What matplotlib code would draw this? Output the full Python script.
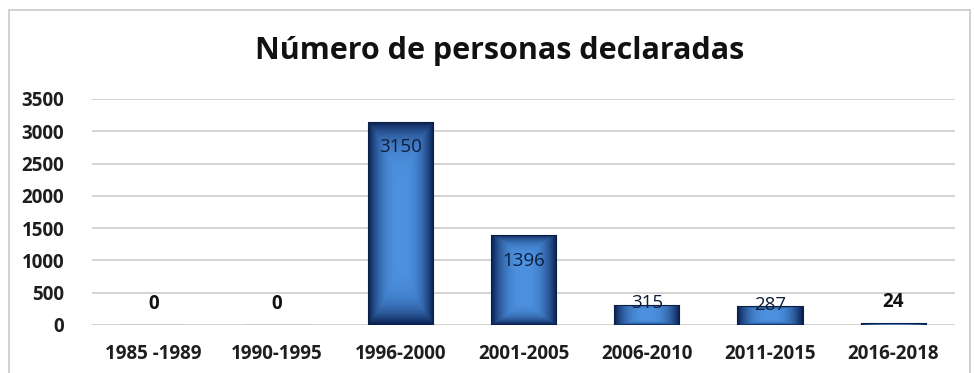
import numpy as np
import matplotlib
matplotlib.use("Agg")
import matplotlib.pyplot as plt
from matplotlib.patches import Rectangle

categories = ["1985 -1989", "1990-1995", "1996-2000", "2001-2005", "2006-2010", "2011-2015", "2016-2018"]
values = [0, 0, 3150, 1396, 315, 287, 24]
yticks = [0, 500, 1000, 1500, 2000, 2500, 3000, 3500]
title = "Número de personas declaradas"

W, H = 974, 373
fig = plt.figure(figsize=(W / 100, H / 100), dpi=100)
fig.patch.set_facecolor("white")
fig.add_artist(Rectangle((9 / W, -0.05), (970 - 9) / W, 1 - 10 / H + 0.05,
                         transform=fig.transFigure, fill=False,
                         edgecolor="#c9c9c9", linewidth=1.2))

ax = fig.add_axes([92 / W, 1 - 325 / H, (955 - 92) / W, (325 - 99) / H])
ax.set_xlim(-0.5, len(categories) - 0.5)
ax.set_ylim(0, 3500)
for s in ax.spines.values():
    s.set_visible(False)
ax.set_yticks(yticks)
ax.set_yticklabels([str(t) for t in yticks], fontsize=13.5, fontweight="bold",
                   color="#1e1e1e", family="Open Sans")
ax.set_xticks(range(len(categories)))
ax.set_xticklabels(categories, fontsize=13.5, fontweight="bold", color="#1e1e1e",
                   family="Open Sans")
ax.tick_params(axis="both", length=0)
ax.tick_params(axis="y", pad=20)
ax.tick_params(axis="x", pad=14)
ax.grid(axis="y", color="#c8c8c8", linewidth=1.1)
ax.set_axisbelow(True)

# gradient image
n = 200
xx = np.linspace(-1, 1, n)
X, Y = np.meshgrid(xx, xx)
d = np.clip(np.maximum(np.abs(X) ** 2.5, np.abs(Y) ** 6), 0, 1)
light = np.array([0.30, 0.57, 0.88])
dark = np.array([0.03, 0.11, 0.30])
img = light[None, None, :] * (1 - d[..., None]) + dark[None, None, :] * d[..., None]

bw = 0.53
bars = ax.bar(range(len(values)), values, width=bw, color="none",
              edgecolor="#0b1f45", linewidth=0.8, zorder=3)
for b, v in zip(bars, values):
    if v <= 0:
        continue
    x0 = b.get_x()
    im = ax.imshow(img, extent=[x0, x0 + bw, 0, v], aspect="auto", zorder=2,
                   interpolation="bilinear")
    im.set_clip_path(b)

for i, v in enumerate(values):
    if v >= 1000:
        ax.annotate(str(v), (i, v), xytext=(0, -12), textcoords="offset points",
                    ha="center", va="top", fontsize=13.5, color="#0f1e3a",
                    family="Open Sans", zorder=4)
    elif v >= 200:
        ax.annotate(str(v), (i, v), xytext=(0, 1), textcoords="offset points",
                    ha="center", va="center", fontsize=13.5, color="#0f1e3a",
                    family="Open Sans", zorder=4)
    else:
        ax.annotate(str(v), (i, v), xytext=(0, 8), textcoords="offset points",
                    ha="center", va="bottom", fontsize=13.5, fontweight="bold",
                    color="#111111", family="Open Sans", zorder=4)

fig.text(500 / W, 1 - 51 / H, title, ha="center", va="center", fontsize=22,
         fontweight="bold", color="#111111", family="Open Sans")

fig.savefig("out.png", dpi=100)
